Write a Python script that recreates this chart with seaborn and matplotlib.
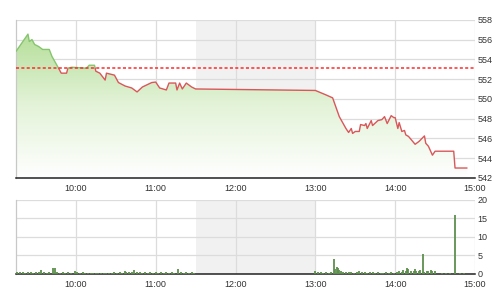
import numpy as np
import pandas as pd
import matplotlib
matplotlib.use("Agg")
import matplotlib.pyplot as plt
from matplotlib.colors import LinearSegmentedColormap
import seaborn as sns

# ---------------- data ----------------
price_times = ["09:15", "09:24", "09:25", "09:27", "09:29", "09:32", "09:35", "09:40",
               "09:42", "09:47", "09:49", "09:53", "09:54", "09:57", "10:08", "10:10",
               "10:14", "10:15", "10:18", "10:22", "10:23", "10:29", "10:32", "10:37",
               "10:42", "10:46", "10:50", "10:57", "11:00", "11:03", "11:08", "11:10",
               "11:15", "11:16", "11:18", "11:20", "11:23", "11:27", "11:30",
               "13:00", "13:08", "13:13", "13:18", "13:23", "13:25", "13:27", "13:28",
               "13:30", "13:33", "13:34", "13:37", "13:38", "13:39", "13:42", "13:43",
               "13:47", "13:50", "13:52", "13:54", "13:57", "13:59", "14:00", "14:02",
               "14:03", "14:05", "14:07", "14:08", "14:10", "14:15", "14:18", "14:22",
               "14:23", "14:25", "14:28", "14:30", "14:44", "14:45", "14:54"]
price_values = [554.8, 556.55, 555.8, 556.0, 555.5, 555.3, 555.0, 555.0,
                554.3, 553.1, 552.6, 552.6, 553.1, 553.2, 553.1, 553.4,
                553.4, 552.8, 552.6, 551.9, 552.6, 552.4, 551.65, 551.3,
                551.1, 550.7, 551.2, 551.65, 551.7, 551.1, 550.9, 551.6,
                551.6, 550.9, 551.6, 551.0, 551.6, 551.2, 551.0,
                550.85, 550.4, 550.1, 548.2, 547.0, 546.6, 547.0, 546.5,
                546.7, 546.7, 547.4, 547.3, 547.5, 547.0, 547.8, 547.3,
                547.8, 547.9, 548.2, 547.5, 548.3, 548.1, 548.1, 547.0,
                547.6, 546.7, 546.8, 546.35, 546.2, 545.4, 545.7, 546.25,
                545.5, 545.2, 544.3, 544.7, 544.7, 543.0, 543.0]
reference_price = 553.1

vol_times = ["09:16", "09:18", "09:20", "09:22", "09:24", "09:26", "09:28", "09:30",
             "09:32", "09:34", "09:36", "09:38", "09:40", "09:43", "09:44", "09:46",
             "09:48", "09:50", "09:52", "09:54", "09:56", "09:59", "10:01", "10:03",
             "10:05", "10:07", "10:09", "10:11", "10:13", "10:15", "10:17", "10:19",
             "10:21", "10:23", "10:25", "10:27", "10:29", "10:31", "10:33", "10:35",
             "10:37", "10:38", "10:40", "10:42", "10:44", "10:46", "10:48", "10:50",
             "10:52", "10:54", "10:56", "10:58", "11:00", "11:02", "11:04", "11:06",
             "11:08", "11:10", "11:12", "11:14", "11:17", "11:19", "11:21", "11:23",
             "11:25", "11:27", "11:29",
             "13:00", "13:02", "13:04", "13:06", "13:08", "13:10", "13:12", "13:14",
             "13:15", "13:16", "13:17", "13:18", "13:19", "13:21", "13:23", "13:25",
             "13:27", "13:29", "13:31", "13:33", "13:35", "13:37", "13:39", "13:41",
             "13:43", "13:45", "13:47", "13:49", "13:51", "13:53", "13:55", "13:57",
             "13:59", "14:01", "14:03", "14:05", "14:06", "14:08", "14:09", "14:10",
             "14:12", "14:14", "14:15", "14:16", "14:18", "14:19", "14:21", "14:22",
             "14:24", "14:25", "14:27", "14:28", "14:30", "14:35", "14:38", "14:41",
             "14:45", "14:49", "14:52"]
vol_values = [0.4, 0.5, 0.6, 0.3, 0.5, 0.4, 0.3, 0.5,
              0.4, 1.0, 0.5, 0.3, 0.4, 1.6, 1.6, 0.4,
              0.3, 0.4, 0.3, 0.4, 0.3, 0.8, 0.4, 0.3,
              0.4, 0.3, 0.2, 0.3, 0.2, 0.3, 0.2, 0.2,
              0.3, 0.2, 0.3, 0.3, 0.4, 0.3, 0.4, 0.3,
              0.7, 0.6, 0.4, 0.5, 1.0, 0.5, 0.4, 0.3,
              0.4, 0.3, 0.4, 0.3, 0.4, 0.3, 0.4, 0.3,
              0.4, 0.3, 0.4, 0.3, 1.3, 0.4, 0.3, 0.4,
              0.3, 0.4, 0.3,
              0.9, 0.4, 0.6, 0.3, 0.5, 0.3, 0.4, 4.0,
              1.2, 1.8, 1.5, 1.0, 0.8, 0.5, 0.4, 0.5,
              0.4, 0.3, 0.4, 0.9, 0.4, 0.6, 0.3, 0.5,
              0.4, 0.3, 0.4, 0.3, 0.3, 0.4, 0.3, 0.4,
              0.3, 0.6, 0.8, 0.5, 1.0, 0.9, 1.7, 1.3,
              0.9, 0.8, 1.2, 0.9, 0.7, 1.0, 5.4, 0.6,
              0.8, 0.9, 1.0, 0.7, 0.9, 0.3, 0.3, 0.3,
              15.9, 0.3, 0.3]

hour_ticks = ["10:00", "11:00", "12:00", "13:00", "14:00", "15:00"]
price_ticks = [542, 544, 546, 548, 550, 552, 554, 556, 558]
vol_ticks = [0, 5, 10, 15, 20]
session_start, session_end = "09:15", "15:00"
lunch_start, lunch_end = "11:30", "13:00"


def to_h(s):
    h, m = s.split(":")
    return int(h) + int(m) / 60.0


# ---------------- style ----------------
sns.set_theme(style="white")
plt.rcParams["font.family"] = ["Liberation Sans", "DejaVu Sans"]

GRID = "#dcdcdc"
TXT = "#333333"
GREEN_LINE = "#86c56f"
RED_LINE = "#d9575a"

fig = plt.figure(figsize=(5, 3), dpi=100)
ax1 = fig.add_axes([0.032, 0.407, 0.918, 0.527])
ax2 = fig.add_axes([0.032, 0.087, 0.918, 0.247])

x0, x1 = to_h(session_start), to_h(session_end)
ticks_x = [to_h(t) for t in hour_ticks]

df = pd.DataFrame({"t": [to_h(t) for t in price_times], "p": price_values})

for ax in (ax1, ax2):
    ax.set_facecolor("white")
    ax.axvspan(to_h(lunch_start), to_h(lunch_end), color="#f1f1f1", zorder=0, lw=0)
    ax.set_xlim(x0, x1)
    ax.set_xticks(ticks_x)
    ax.set_xticklabels(hour_ticks)
    ax.grid(True, color=GRID, lw=0.9, zorder=0.5)
    ax.yaxis.tick_right()
    ax.tick_params(axis="both", length=0, labelsize=6.5, colors=TXT)
    ax.tick_params(axis="x", pad=4.5)
    ax.tick_params(axis="y", pad=2)
    for side in ("top", "right"):
        ax.spines[side].set_visible(False)
    ax.spines["left"].set_color("#c8c8c8")
    ax.spines["left"].set_linewidth(0.9)
    ax.spines["bottom"].set_color("#222222")
    ax.spines["bottom"].set_linewidth(1.1)
    ax.set_axisbelow(True)

# ---------- top panel ----------
ax1.set_ylim(542, 558)
ax1.set_yticks(price_ticks)
ax1.set_yticklabels([str(v) for v in price_ticks])

# gradient fill below price line
cmap = LinearSegmentedColormap.from_list("g", ["#ffffff", "#e3f3d8", "#b4de98"])
grad = np.linspace(0, 1, 256).reshape(-1, 1)
img = ax1.imshow(grad, aspect="auto", cmap=cmap, origin="lower",
                 extent=[x0, x1, 542, 556.8], zorder=1)
poly = ax1.fill_between(df["t"], df["p"], 542, color="none", lw=0)
clip = poly.get_paths()[0]
img.set_clip_path(clip, transform=ax1.transData)

# split line into above/below reference segments
ts, ps = list(df["t"]), list(df["p"])
segs = []
cur_t, cur_p = [ts[0]], [ps[0]]
cur_above = ps[0] >= reference_price
for i in range(1, len(ts)):
    above = ps[i] >= reference_price
    if above != cur_above:
        f = (reference_price - ps[i - 1]) / (ps[i] - ps[i - 1])
        tc = ts[i - 1] + f * (ts[i] - ts[i - 1])
        cur_t.append(tc); cur_p.append(reference_price)
        segs.append((cur_t, cur_p, cur_above))
        cur_t, cur_p = [tc], [reference_price]
        cur_above = above
    cur_t.append(ts[i]); cur_p.append(ps[i])
segs.append((cur_t, cur_p, cur_above))

for st, sp, ab in segs:
    sns.lineplot(x=st, y=sp, ax=ax1, color=GREEN_LINE if ab else RED_LINE,
                 lw=1.0, zorder=3, sort=False, estimator=None)

ax1.axhline(reference_price, color="#ff2a2a", lw=1.1, ls=(0, (2, 1.5)), zorder=4)
ax1.set_xlabel(""); ax1.set_ylabel("")

# ---------- bottom panel ----------
ax2.set_ylim(0, 20)
ax2.set_yticks(vol_ticks)
ax2.set_yticklabels([str(v) for v in vol_ticks])
vt = [to_h(t) for t in vol_times]
ax2.vlines(vt, 0, vol_values, color="#5e8f4e", lw=1.3, zorder=3)
ax2.set_xlabel(""); ax2.set_ylabel("")

fig.savefig("out.png", dpi=100)
